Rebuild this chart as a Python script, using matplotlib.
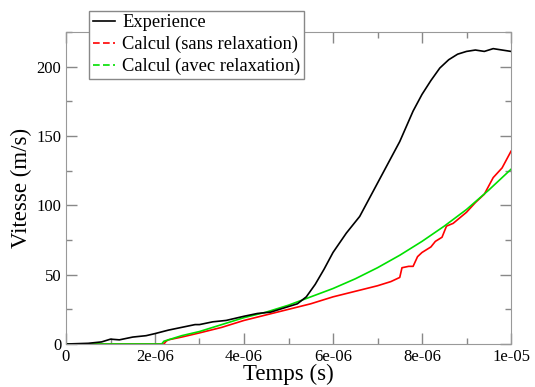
import numpy as np
import matplotlib
matplotlib.use("Agg")
import matplotlib.pyplot as plt
from matplotlib.lines import Line2D

plt.rcParams["font.family"] = ["Liberation Serif", "DejaVu Serif"]

# Experience (black)
t_exp = [0, 0.5, 0.8, 1.0, 1.2, 1.5, 1.8, 2.0, 2.3, 2.6, 2.9, 3.0, 3.3, 3.6, 4.0,
         4.3, 4.6, 5.0, 5.2, 5.4, 5.6, 5.8, 6.0, 6.3, 6.6, 6.9, 7.2, 7.5, 7.8,
         8.0, 8.2, 8.4, 8.6, 8.8, 9.0, 9.2, 9.4, 9.6, 9.8, 10.0]
v_exp = [0, 0.5, 1.5, 3.5, 3, 5, 6, 7.5, 10, 12, 14, 14, 16, 17, 20,
         22, 23, 27, 29, 34, 43, 54, 66, 80, 92, 110, 128, 146, 168,
         180, 190, 199, 205, 209, 211, 212, 211, 213, 212, 211]

# Calcul avec relaxation (green)
t_avec = [0, 2.15, 2.2, 2.3, 2.6, 3.0, 3.5, 4.0, 4.5, 5.0, 5.5, 6.0, 6.5,
          7.0, 7.5, 8.0, 8.5, 9.0, 9.5, 10.0]
v_avec = [0, 0, 2, 3, 6, 9, 14, 19, 23, 28, 34, 40, 47,
          55, 64, 74, 85, 97, 111, 126]

# Calcul sans relaxation (red)
t_sans = [0, 2.2, 2.25, 2.3, 2.6, 3.0, 3.5, 4.0, 4.5, 5.0, 5.5, 6.0, 6.5,
          7.0, 7.3, 7.5, 7.55, 7.7, 7.8, 7.9, 8.0, 8.2, 8.3, 8.45, 8.55,
          8.7, 9.0, 9.2, 9.4, 9.6, 9.8, 9.9, 10.0]
v_sans = [0, 0, 2, 3, 5, 8, 12, 17, 21, 25, 29, 34, 38,
          42, 45, 48, 55, 56, 56, 63, 66, 70, 74, 77, 85,
          87, 95, 102, 108, 120, 127, 133, 139]

fig = plt.figure(figsize=(5.35, 3.87), dpi=100)
ax = fig.add_axes([66 / 535, 1 - 344 / 387, 445 / 535, 312 / 387])

ax.plot(np.array(t_sans) * 1e-6, v_sans, color="#ff0000", lw=1.2)
ax.plot(np.array(t_avec) * 1e-6, v_avec, color="#00e000", lw=1.2)
ax.plot(np.array(t_exp) * 1e-6, v_exp, color="black", lw=1.2)

ax.set_xlim(0, 1e-5)
ax.set_ylim(0, 225)
ax.set_xticks([0, 2e-6, 4e-6, 6e-6, 8e-6, 1e-5])
ax.set_xticklabels(["0", "2e-06", "4e-06", "6e-06", "8e-06", "1e-05"])
ax.set_xticks(np.arange(1e-6, 1e-5, 2e-6), minor=True)
ax.set_yticks([0, 50, 100, 150, 200])
ax.set_yticks([25, 75, 125, 175, 225], minor=True)
ax.tick_params(which="both", direction="in", top=True, right=True,
               colors="#888888", labelcolor="black", labelsize=12, width=1)
ax.tick_params(which="major", length=8)
ax.tick_params(which="minor", length=4)
for s in ax.spines.values():
    s.set_color("#999999")

ax.set_xlabel("Temps (s)", fontsize=16.5, labelpad=-1)
ax.set_ylabel("Vitesse (m/s)", fontsize=16.5, labelpad=3)

handles = [Line2D([], [], color="black", lw=1.2),
           Line2D([], [], color="#ff0000", lw=1.2, ls=(0, (4, 2))),
           Line2D([], [], color="#00e000", lw=1.2, ls=(0, (4, 2)))]
leg = fig.legend(handles, ["Experience", "Calcul (sans relaxation)", "Calcul (avec relaxation)"],
                 loc="upper left", bbox_to_anchor=(89 / 535, 1 - 10.5 / 387),
                 borderaxespad=0, fontsize=13.3, frameon=True, fancybox=False,
                 handlelength=1.2, handletextpad=0.4, labelspacing=0.25,
                 borderpad=0.2, framealpha=1)
leg.get_frame().set_edgecolor("#888888")
leg.get_frame().set_linewidth(1)

fig.savefig("out.png", dpi=100)
